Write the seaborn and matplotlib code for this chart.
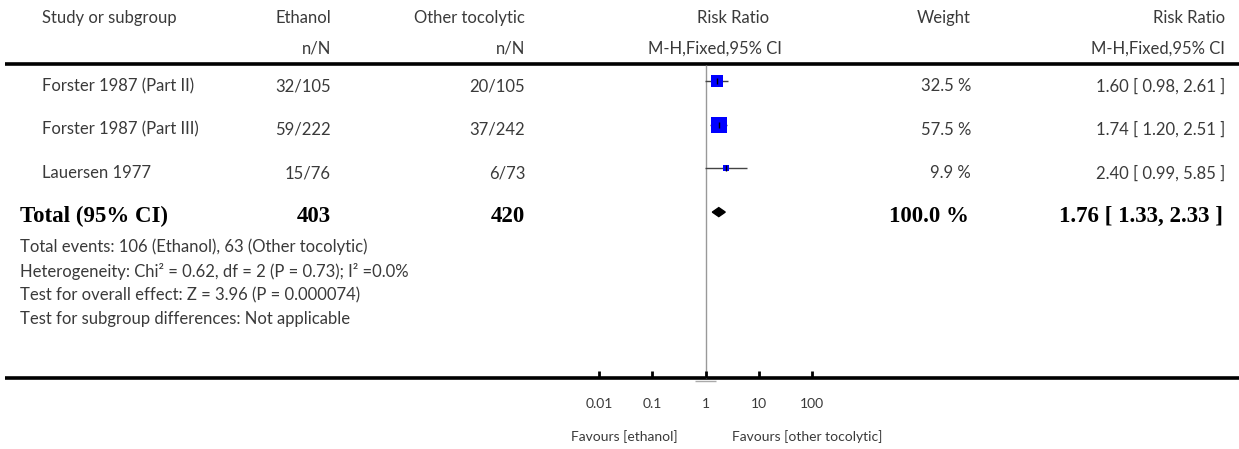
import numpy as np
import pandas as pd
import matplotlib.pyplot as plt
import seaborn as sns

# Study data
studies = ["Forster 1987 (Part II)", "Forster 1987 (Part III)", "Lauersen 1977"]
eth_events = [32, 59, 15]
eth_total = [105, 222, 76]
oth_events = [20, 37, 6]
oth_total = [105, 242, 73]
weights = [32.5, 57.5, 9.9]
rr = [1.60, 1.74, 2.40]
rr_lo = [0.98, 1.20, 0.99]
rr_hi = [2.61, 2.51, 5.85]

# Pooled result
total_eth = 403
total_oth = 420
total_weight = 100.0
total_rr, total_lo, total_hi = 1.76, 1.33, 2.33

footnotes = [
    "Total events: 106 (Ethanol), 63 (Other tocolytic)",
    "Heterogeneity: Chi\u00b2 = 0.62, df = 2 (P = 0.73); I\u00b2 =0.0%",
    "Test for overall effect: Z = 3.96 (P = 0.000074)",
    "Test for subgroup differences: Not applicable",
]
tick_values = [0.01, 0.1, 1, 10, 100]
tick_labels = ["0.01", "0.1", "1", "10", "100"]

sns.set_style("white")
plt.rcParams["font.family"] = ["Lato", "DejaVu Sans"]

W, H = 1239, 449
fig = plt.figure(figsize=(W / 100, H / 100), dpi=100)

# table axes in pixel units
tab = fig.add_axes([0, 0, 1, 1])
tab.set_xlim(0, W)
tab.set_ylim(H, 0)
tab.axis("off")

# forest axes: x=1 at px 705.7, one decade = 53.3 px
dec = 53.3
x_one = 705.7
left_px = x_one - 3 * dec
fst = fig.add_axes([left_px / W, 0, 6 * dec / W, 1])
fst.set_xscale("log")
fst.set_xlim(1e-3, 1e3)
fst.set_ylim(H, 0)
fst.axis("off")

txt = "#3a3a3a"
fs = 12
sfs = 10
bold = dict(family=["Liberation Serif"], fontweight="bold", fontsize=16.5, color="black")

# header
head_y1, head_y2 = 18, 49
tab.text(42, head_y1, "Study or subgroup", ha="left", va="center", fontsize=fs, color=txt)
tab.text(331, head_y1, "Ethanol", ha="right", va="center", fontsize=fs, color=txt)
tab.text(331, head_y2, "n/N", ha="right", va="center", fontsize=fs, color=txt)
tab.text(525, head_y1, "Other tocolytic", ha="right", va="center", fontsize=fs, color=txt)
tab.text(525, head_y2, "n/N", ha="right", va="center", fontsize=fs, color=txt)
tab.text(733, head_y1, "Risk Ratio", ha="center", va="center", fontsize=fs, color=txt)
tab.text(715, head_y2, "M-H,Fixed,95% CI", ha="center", va="center", fontsize=fs, color=txt)
tab.text(971, head_y1, "Weight", ha="right", va="center", fontsize=fs, color=txt)
tab.text(1225, head_y1, "Risk Ratio", ha="right", va="center", fontsize=fs, color=txt)
tab.text(1225, head_y2, "M-H,Fixed,95% CI", ha="right", va="center", fontsize=fs, color=txt)

# horizontal rules
top_y, bot_y = 64, 378
tab.hlines([top_y, bot_y], 5, W, color="black", linewidth=2.6)

# study rows
row0, step = 81, 43.7
row_y = [row0 + step * i for i in range(len(studies))]
for i, name in enumerate(studies):
    y = row_y[i] + 5
    tab.text(42, y, name, ha="left", va="center", fontsize=fs, color=txt)
    tab.text(331, y, f"{eth_events[i]}/{eth_total[i]}", ha="right", va="center", fontsize=fs, color=txt)
    tab.text(525, y, f"{oth_events[i]}/{oth_total[i]}", ha="right", va="center", fontsize=fs, color=txt)
    tab.text(971, y, f"{weights[i]:.1f} %", ha="right", va="center", fontsize=fs, color=txt)
    tab.text(1225, y, f"{rr[i]:.2f} [ {rr_lo[i]:.2f}, {rr_hi[i]:.2f} ]", ha="right",
             va="center", fontsize=fs, color=txt)

# total row
tot_y = row0 + step * len(studies)
ty = tot_y + 4
tab.text(20, ty, "Total (95% CI)", ha="left", va="center", **bold)
tab.text(331, ty, f"{total_eth}", ha="right", va="center", **bold)
tab.text(525, ty, f"{total_oth}", ha="right", va="center", **bold)
tab.text(969, ty, f"{total_weight:.1f} %", ha="right", va="center", **bold)
tab.text(1223, ty, f"{total_rr:.2f} [ {total_lo:.2f}, {total_hi:.2f} ]",
         ha="right", va="center", **bold)

# footnotes
for k, line in enumerate(footnotes):
    tab.text(20, 247 + 24 * k, line, ha="left", va="center", fontsize=fs, color=txt)

# forest plot: line of no effect
fst.vlines(1, top_y + 1, bot_y, color="#999999", linewidth=1)
fst.hlines(bot_y + 3, 10 ** (-0.2), 10 ** (0.2), color="#aaaaaa", linewidth=1)

# confidence intervals
fst.hlines(row_y, rr_lo, rr_hi, color="#444444", linewidth=1)

# squares sized by weight
df = pd.DataFrame({"rr": rr, "y": row_y, "w": weights})
for _, r in df.iterrows():
    side_pt = np.sqrt(r["w"]) * 2.1 * 0.72
    sns.scatterplot(x=[r["rr"]], y=[r["y"]], ax=fst, marker="s", color="#0000ff",
                    s=side_pt ** 2, linewidth=0, legend=False, zorder=3)
fst.vlines(rr, np.array(row_y) - 3, np.array(row_y) + 3, color="black", linewidth=1, zorder=4)

# pooled diamond
dh = 4.5
fst.fill([total_lo, total_rr, total_hi, total_rr],
         [tot_y, tot_y - dh, tot_y, tot_y + dh], color="black", zorder=3)

# axis ticks and labels
fst.vlines(tick_values, bot_y - 7, bot_y, color="black", linewidth=2)
for v, lab in zip(tick_values, tick_labels):
    fst.text(v, 404, lab, ha="center", va="center", fontsize=sfs, color=txt)
fst.text(10 ** (-0.52), 437, "Favours [ethanol]", ha="right", va="center", fontsize=sfs, color=txt)
fst.text(10 ** (0.5), 437, "Favours [other tocolytic]", ha="left", va="center", fontsize=sfs, color=txt)

fig.savefig("out.png", dpi=100)
